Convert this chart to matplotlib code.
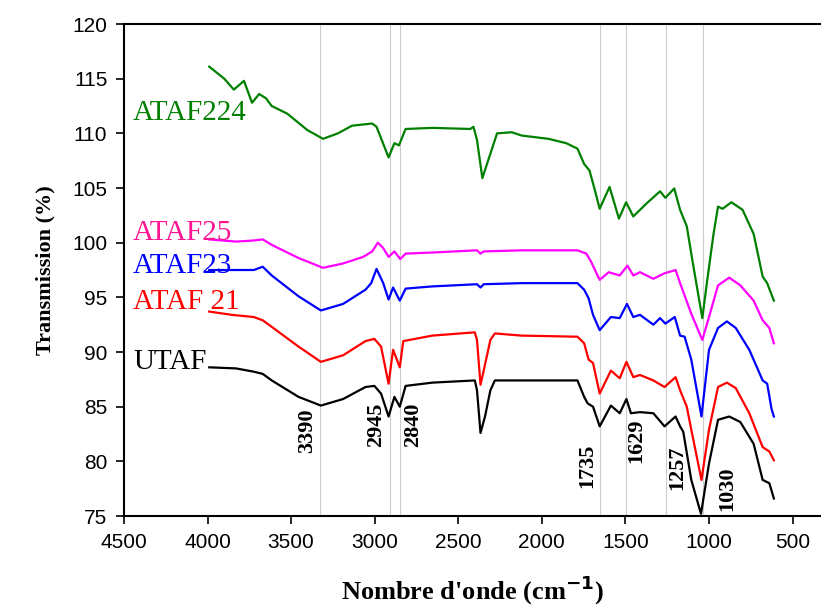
import matplotlib
matplotlib.use("Agg")
import matplotlib.pyplot as plt

# wavenumbers (cm-1) and transmission (%)
utaf_x = [3990, 3830, 3723, 3670, 3616, 3456, 3322, 3189, 3055, 3002, 2962, 2917, 2882,
          2850, 2815, 2655, 2401, 2388, 2367, 2340, 2308, 2281, 1787, 1747, 1726, 1694,
          1654, 1587, 1534, 1494, 1467, 1413, 1333, 1266, 1200, 1173, 1154, 1106, 1048,
          1000, 946, 879, 813, 733, 679, 639, 612]
utaf_y = [88.6, 88.5, 88.2, 88.0, 87.4, 85.9, 85.1, 85.7, 86.8, 86.9, 86.2, 84.1, 85.9,
          85.0, 86.9, 87.2, 87.4, 86.5, 82.6, 84.1, 86.5, 87.4, 87.4, 85.9, 85.3, 85.0,
          83.2, 85.1, 84.4, 85.7, 84.4, 84.5, 84.4, 83.2, 84.1, 83.2, 82.7, 78.3, 75.2,
          79.8, 83.8, 84.1, 83.6, 81.6, 78.3, 78.0, 76.6]

ataf21_x = [3990, 3856, 3723, 3670, 3616, 3456, 3322, 3189, 3055, 3002, 2962, 2917, 2890,
            2850, 2829, 2655, 2401, 2388, 2367, 2348, 2308, 2281, 2121, 1787, 1747, 1720,
            1694, 1654, 1587, 1534, 1494, 1453, 1413, 1333, 1266, 1200, 1173, 1133, 1106,
            1045, 1000, 946, 893, 840, 759, 679, 639, 612]
ataf21_y = [93.7, 93.4, 93.2, 92.9, 92.3, 90.5, 89.1, 89.7, 91.0, 91.2, 90.5, 87.1, 90.2,
            88.6, 91.0, 91.5, 91.8, 91.1, 87.0, 88.3, 91.1, 91.7, 91.5, 91.4, 90.8, 89.3,
            89.0, 86.2, 88.3, 87.6, 89.1, 87.7, 87.9, 87.4, 86.8, 87.7, 86.5, 85.0, 82.9,
            78.3, 82.9, 86.8, 87.2, 86.7, 84.4, 81.3, 80.9, 80.1]

ataf23_x = [3990, 3830, 3723, 3670, 3616, 3456, 3322, 3189, 3055, 3021, 2989, 2949, 2917,
            2890, 2850, 2815, 2655, 2388, 2367, 2348, 2121, 1787, 1747, 1720, 1694, 1654,
            1587, 1534, 1491, 1453, 1413, 1333, 1293, 1261, 1205, 1173, 1146, 1106, 1045,
            1000, 946, 893, 840, 759, 679, 652, 626, 612]
ataf23_y = [97.5, 97.5, 97.5, 97.8, 97.0, 95.1, 93.8, 94.4, 95.7, 96.3, 97.6, 96.3, 94.8,
            95.9, 94.7, 95.8, 96.0, 96.2, 95.9, 96.2, 96.3, 96.3, 95.7, 94.9, 93.4, 92.0,
            93.2, 93.1, 94.4, 93.2, 93.4, 92.5, 93.1, 92.6, 93.2, 91.5, 91.4, 89.3, 84.1,
            90.2, 92.2, 92.8, 92.2, 90.2, 87.4, 87.1, 84.8, 84.1]

ataf25_x = [3990, 3830, 3723, 3670, 3616, 3456, 3309, 3189, 3069, 3015, 2981, 2949, 2917,
            2882, 2847, 2815, 2655, 2388, 2367, 2348, 2121, 1787, 1734, 1707, 1654, 1600,
            1534, 1488, 1453, 1413, 1333, 1266, 1200, 1173, 1106, 1040, 1000, 946, 879,
            813, 733, 679, 639, 612]
ataf25_y = [100.3, 100.1, 100.2, 100.3, 99.8, 98.6, 97.7, 98.1, 98.7, 99.2, 100.0, 99.5, 98.7,
            99.2, 98.5, 99.0, 99.1, 99.3, 99.0, 99.2, 99.3, 99.3, 99.0, 98.3, 96.6, 97.3,
            97.0, 97.9, 97.0, 97.3, 96.7, 97.2, 97.5, 96.3, 93.5, 91.1, 93.2, 96.1, 96.8,
            96.1, 94.7, 92.9, 92.2, 90.8]

ataf224_x = [3990, 3900, 3843, 3782, 3734, 3691, 3650, 3616, 3523, 3403, 3309, 3220, 3136,
             3015, 2989, 2917, 2882, 2855, 2815, 2655, 2428, 2409, 2388, 2356, 2313, 2268,
             2180, 2121, 1961, 1854, 1787, 1747, 1715, 1688, 1654, 1595, 1539, 1496, 1453,
             1373, 1293, 1261, 1208, 1173, 1133, 1093, 1040, 1013, 973, 946, 919, 866, 799,
             733, 679, 652, 612]
ataf224_y = [116.1, 115.0, 114.0, 114.8, 112.8, 113.6, 113.2, 112.5, 111.8, 110.3, 109.5, 110.0, 110.7,
             110.9, 110.6, 107.8, 109.1, 108.9, 110.4, 110.5, 110.4, 110.6, 109.4, 105.9, 107.9, 110.0,
             110.1, 109.8, 109.5, 109.1, 108.6, 107.2, 106.6, 105.1, 103.1, 105.1, 102.2, 103.7, 102.4,
             103.6, 104.7, 104.1, 104.96, 103.0, 101.5, 97.8, 93.1, 96.3, 100.8, 103.3, 103.1, 103.7,
             103.0, 100.8, 96.9, 96.3, 94.7]

series_names = ["UTAF", "ATAF 21", "ATAF23", "ATAF25", "ATAF224"]
line_colors = ["black", "red", "blue", "magenta", "green"]
label_colors = ["black", "red", "blue", "#ff1493", "green"]
label_y = [89.1, 94.6, 97.9, 100.9, 111.9]

# band markers: line position, label text, label position
band_lines = [3325, 2906, 2847, 1654, 1496, 1259, 1034]
band_labels = ["3390", "2945", "2840", "1735", "1629", "1257", "1030"]
band_label_x = [3406, 2993, 2772, 1731, 1438, 1187, 888]
band_label_y = [82.8, 83.3, 83.3, 79.6, 81.9, 79.4, 77.5]

fig = plt.figure(figsize=(8.21, 6.08), dpi=100)
ax = fig.add_axes([0.151, 0.1513, 0.849, 0.8092])

for wn in band_lines:
    ax.axvline(wn, color="#cccccc", lw=0.8, zorder=1)

data_x = [utaf_x, ataf21_x, ataf23_x, ataf25_x, ataf224_x]
data_y = [utaf_y, ataf21_y, ataf23_y, ataf25_y, ataf224_y]
for xs, ys, c in zip(data_x, data_y, line_colors):
    ax.plot(xs, ys, color=c, lw=1.6, zorder=3)

for name, c, y in zip(series_names, label_colors, label_y):
    ax.text(4446, y, name, color=c, fontsize=21, family="Liberation Serif",
            ha="left", va="center", zorder=4)

for txt, x, y in zip(band_labels, band_label_x, band_label_y):
    ax.text(x, y, txt, rotation=90, fontsize=16, fontweight="bold",
            family="Liberation Serif", ha="center", va="center", zorder=4)

ax.set_xlim(4500, 330)
ax.set_ylim(75, 120)
ax.set_xticks([4500, 4000, 3500, 3000, 2500, 2000, 1500, 1000, 500])
ax.set_yticks([75, 80, 85, 90, 95, 100, 105, 110, 115, 120])
ax.tick_params(direction="out", length=6, width=1.2, labelsize=15, pad=6)
for lab in ax.get_xticklabels() + ax.get_yticklabels():
    lab.set_family("Liberation Sans")
ax.spines["right"].set_visible(False)
for s in ["left", "bottom", "top"]:
    ax.spines[s].set_linewidth(1.5)

ax.set_xlabel("Nombre d'onde (cm$^{\\mathbf{-1}}$)", fontsize=19, fontweight="bold",
              family="Liberation Serif", labelpad=16)
ax.set_ylabel("Transmission (%)", fontsize=16, fontweight="bold",
              family="Liberation Serif", labelpad=12)

plt.savefig("out.png", dpi=100)
